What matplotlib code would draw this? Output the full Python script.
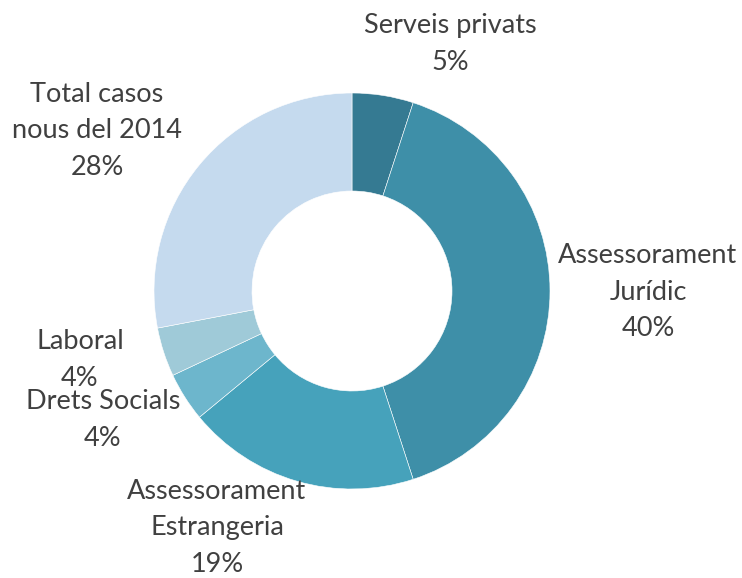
import matplotlib.pyplot as plt

# dades del gràfic
categories = ["Serveis privats", "Assessorament\nJurídic", "Assessorament\nEstrangeria",
              "Drets Socials", "Laboral", "Total casos\nnous del 2014"]
values = [5, 40, 19, 4, 4, 28]
colors = ["#357A92", "#3E8FA8", "#46A2BB", "#6DB6CC", "#9FCAD8", "#C5DAEE"]

W, H = 742, 578
fig = plt.figure(figsize=(W / 100, H / 100), dpi=100)
ax = fig.add_axes([0, 0, 1, 1])

ax.pie(values, colors=colors, startangle=90, counterclock=False,
       center=(352, H - 291), radius=198,
       wedgeprops=dict(width=98, edgecolor="white", linewidth=0.4))
ax.set_xlim(0, W)
ax.set_ylim(0, H)
ax.set_aspect("auto")
ax.axis("off")

# posicions de les etiquetes (px)
label_pos = [(450, 44), (648, 292), (217, 528), (103, 420), (80, 360), (97, 131)]
for name, v, (x, y) in zip(categories, values, label_pos):
    ax.text(x, H - y, f"{name}\n{v}%", ha="center", va="center",
            fontsize=19.5, color="#404040", linespacing=1.58,
            family=["Lato", "DejaVu Sans"])

fig.savefig("out.png", dpi=100)
